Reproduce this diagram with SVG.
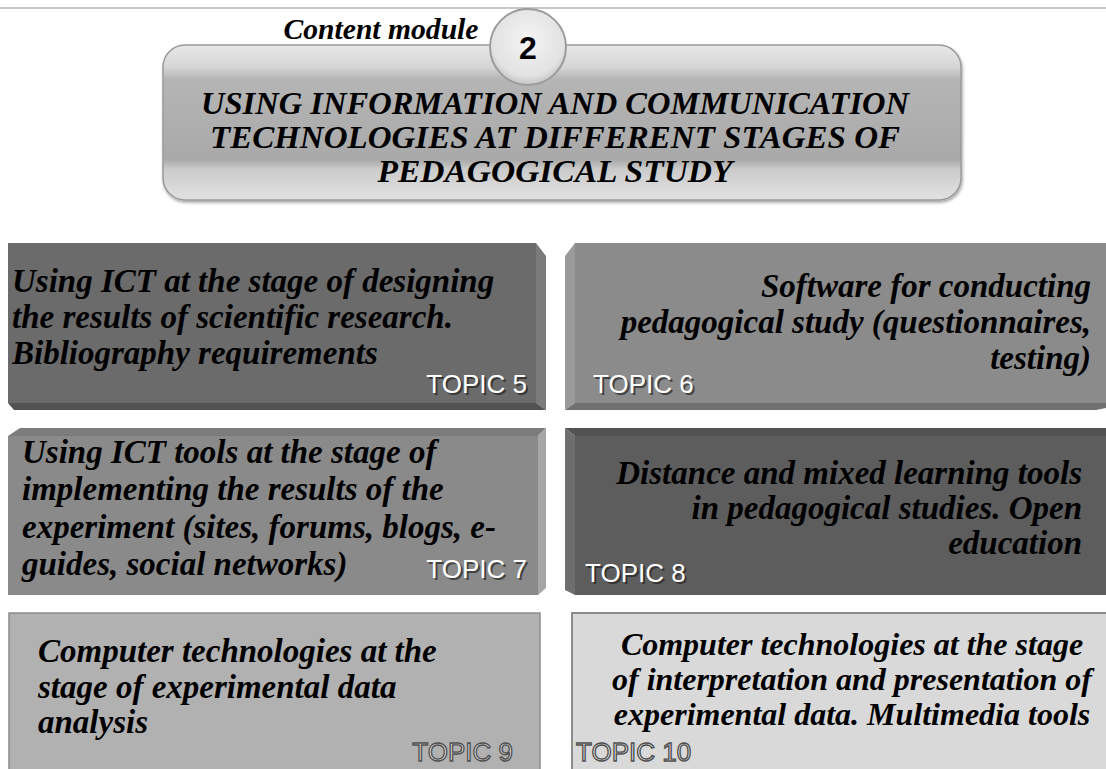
<svg xmlns="http://www.w3.org/2000/svg" width="1106" height="769" viewBox="0 0 1106 769">
<defs>
<linearGradient id="ban" x1="0" y1="0" x2="0" y2="1">
<stop offset="0" stop-color="#e8e8e8"/>
<stop offset="0.14" stop-color="#d6d6d6"/>
<stop offset="0.22" stop-color="#b5b5b5"/>
<stop offset="0.74" stop-color="#a9a9a9"/>
<stop offset="0.8" stop-color="#cbcbcb"/>
<stop offset="1" stop-color="#e2e2e2"/>
</linearGradient>
<radialGradient id="circ" cx="0.5" cy="0.4" r="0.6">
<stop offset="0" stop-color="#f4f4f4"/>
<stop offset="0.8" stop-color="#e2e2e2"/>
<stop offset="1" stop-color="#c4c4c4"/>
</radialGradient>
<filter id="sh" x="-5%" y="-5%" width="110%" height="115%">
<feDropShadow dx="1" dy="2" stdDeviation="1.5" flood-color="#000" flood-opacity="0.35"/>
</filter>
</defs>
<style>
.t{font-family:"Liberation Serif","Times New Roman",serif;font-weight:bold;font-style:italic;font-size:33px;fill:#000}
.h{font-family:"Liberation Serif","Times New Roman",serif;font-weight:bold;font-style:italic;font-size:32px;fill:#000;text-anchor:middle}
.tp{font-family:"Liberation Sans",Arial,sans-serif;font-size:26px;fill:#fff}
.tps{font-family:"Liberation Sans",Arial,sans-serif;font-size:26px;fill:#222;fill-opacity:0.7}
.tpo{font-family:"Liberation Sans",Arial,sans-serif;font-size:26px;fill:#dcdcdc;stroke:#505050;stroke-width:1.3}
.e{text-anchor:end}
.m{text-anchor:middle}
</style>
<line x1="0" y1="8" x2="1106" y2="8" stroke="#c8c8c8" stroke-width="2"/>

<g id="header">
<text x="381" y="39" class="t" style="font-size:29px" text-anchor="middle" textLength="195" lengthAdjust="spacingAndGlyphs">Content module</text>
<rect x="163" y="45" width="798" height="155" rx="22" fill="url(#ban)" stroke="#9a9a9a" stroke-width="1.5" filter="url(#sh)"/>
<text x="555" y="114" class="h" textLength="708" lengthAdjust="spacingAndGlyphs">USING INFORMATION AND COMMUNICATION</text>
<text x="555" y="148" class="h" textLength="690" lengthAdjust="spacingAndGlyphs">TECHNOLOGIES AT DIFFERENT STAGES OF</text>
<text x="555" y="182" class="h" textLength="355" lengthAdjust="spacingAndGlyphs">PEDAGOGICAL STUDY</text>
</g>

<g id="badge">
<circle cx="528" cy="47" r="38" fill="url(#circ)" stroke="#9c9c9c" stroke-width="2"/>
<text x="528" y="59" font-family="Liberation Sans, Arial, sans-serif" font-weight="bold" font-size="32" text-anchor="middle" fill="#000">2</text>
</g>

<g id="topic5">
<polygon points="8,243 536,243 536,403 8,403" fill="#6b6b6b"/>
<polygon points="536,243 546,256 546,410 536,403" fill="#7b7b7b"/>
<polygon points="8,403 536,403 546,410 14,410" fill="#525252"/>
<text class="t"><tspan x="12" y="292">Using ICT at the stage of designing</tspan><tspan x="12" y="328">the results of scientific research.</tspan><tspan x="12" y="364">Bibliography requirements</tspan></text>
<text x="529" y="395" class="tps e">TOPIC 5</text>
<text x="527" y="393" class="tp e">TOPIC 5</text>
</g>

<g id="topic6">
<polygon points="575,243 1106,243 1106,403 575,403" fill="#8b8b8b"/>
<polygon points="565,256 575,243 575,403 565,410" fill="#9b9b9b"/>
<polygon points="565,410 575,403 1106,403 1106,408 1096,410" fill="#707070"/>
<text class="t e"><tspan x="1091" y="297">Software for conducting</tspan><tspan x="1091" y="333">pedagogical study (questionnaires,</tspan><tspan x="1091" y="369">testing)</tspan></text>
<text x="595" y="395" class="tps">TOPIC 6</text>
<text x="593" y="393" class="tp">TOPIC 6</text>
</g>

<g id="topic7">
<polygon points="8,436 538,436 538,595 8,595" fill="#8a8a8a"/>
<polygon points="8,436 20,428 546,428 538,436" fill="#7c7c7c"/>
<polygon points="538,436 546,428 546,588 538,595" fill="#a6a6a6"/>
<text class="t"><tspan x="22" y="463">Using ICT tools at the stage of</tspan><tspan x="22" y="500">implementing the results of the</tspan><tspan x="22" y="538">experiment (sites, forums, blogs, e-</tspan><tspan x="22" y="575">guides, social networks)</tspan></text>
<text x="529" y="580" class="tps e">TOPIC 7</text>
<text x="527" y="578" class="tp e">TOPIC 7</text>
</g>

<g id="topic8">
<polygon points="575,436 1106,436 1106,595 575,595" fill="#5d5d5d"/>
<polygon points="565,428 1106,428 1106,436 575,436" fill="#525252"/>
<polygon points="565,428 575,436 575,595 565,590" fill="#6e6e6e"/>
<text class="t e"><tspan x="1082" y="484">Distance and mixed learning tools</tspan><tspan x="1082" y="519">in pedagogical studies. Open</tspan><tspan x="1082" y="554">education</tspan></text>
<text x="587" y="584" class="tps">TOPIC 8</text>
<text x="585" y="582" class="tp">TOPIC 8</text>
</g>

<g id="topic9">
<rect x="9" y="613" width="531" height="160" fill="#b1b1b1" stroke="#8c8c8c" stroke-width="1.5"/>
<text class="t"><tspan x="38" y="662">Computer technologies at the</tspan><tspan x="38" y="698">stage of experimental data</tspan><tspan x="38" y="733">analysis</tspan></text>
<text x="513" y="761" class="tpo e">TOPIC 9</text>
</g>

<g id="topic10">
<rect x="572" y="613" width="540" height="160" fill="#d9d9d9" stroke="#8c8c8c" stroke-width="2"/>
<text class="t m" style="font-size:32px"><tspan x="852" y="655">Computer technologies at the stage</tspan><tspan x="852" y="690">of interpretation and presentation of</tspan><tspan x="852" y="725">experimental data. Multimedia tools</tspan></text>
<text x="576" y="761" class="tpo">TOPIC 10</text>
</g>

<g id="connectors"></g>
</svg>
